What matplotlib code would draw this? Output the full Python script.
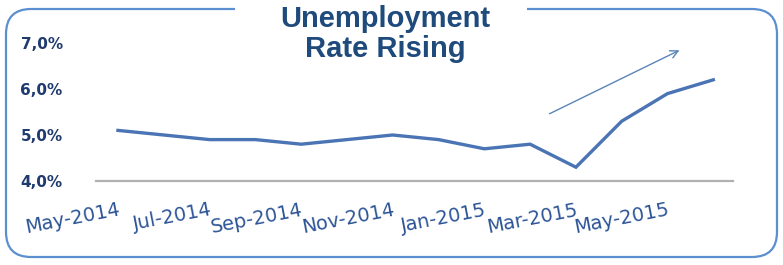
import matplotlib
matplotlib.use("Agg")
import matplotlib.pyplot as plt
from matplotlib.patches import FancyBboxPatch, Rectangle

months = ["May-2014", "Jun-2014", "Jul-2014", "Aug-2014", "Sep-2014", "Oct-2014",
          "Nov-2014", "Dec-2014", "Jan-2015", "Feb-2015", "Mar-2015", "Apr-2015",
          "May-2015", "Jun-2015"]
rate = [5.1, 5.0, 4.9, 4.9, 4.8, 4.9, 5.0, 4.9, 4.7, 4.8, 4.3, 5.3, 5.9, 6.2]
yticks = [4.0, 5.0, 6.0, 7.0]
ytick_labels = ["4,0%", "5,0%", "6,0%", "7,0%"]
title = "Unemployment\nRate Rising"

W, H = 783, 265
fig = plt.figure(figsize=(W / 100, H / 100), dpi=100)
fig.patch.set_facecolor("white")

def fx(px):
    return px / W

def fy(py):
    return 1 - py / H

# frame
frame = FancyBboxPatch((fx(6), fy(257)), fx(771), (257 - 9) / H,
                       boxstyle="round,pad=0,rounding_size=0.032",
                       transform=fig.transFigure, facecolor="none",
                       edgecolor="#5b8fd0", linewidth=1.6, zorder=0,
                       mutation_aspect=W / H)
fig.patches.append(frame)
gap = Rectangle((fx(235), fy(20)), fx(527 - 235), 18 / H, transform=fig.transFigure,
                facecolor="white", edgecolor="none", zorder=0.5)
fig.patches.append(gap)

ax = fig.add_axes([fx(96), fy(181), fx(733 - 96), (181 - 43) / H])
ax.set_zorder(2)
ax.set_facecolor("none")
x = list(range(len(months)))
ax.plot(x, rate, color="#4a74b4", linewidth=2.4, solid_joinstyle="miter", zorder=3)
ax.set_xlim(-0.48, 13.43)
ax.set_ylim(4.0, 7.0)
ax.set_yticks(yticks)
ax.set_yticklabels(ytick_labels, fontsize=11, fontweight="bold", color="#1f3a6e",
                   family="DejaVu Sans")
ax.tick_params(axis="y", length=0, pad=24)
ax.set_xticks(x[::2])
ax.set_xticklabels(months[::2], rotation=11, ha="right", va="top",
                   rotation_mode="anchor", fontsize=14, color="#2d5597",
                   family="DejaVu Sans")
ax.tick_params(axis="x", length=0, pad=14)
for s in ["left", "right", "top"]:
    ax.spines[s].set_visible(False)
ax.spines["bottom"].set_color("#b0b0b0")
ax.spines["bottom"].set_linewidth(1.6)

# arrow
ax.annotate("", xy=(fx(682), fy(49)), xycoords="figure fraction",
            xytext=(fx(547), fy(115)), textcoords="figure fraction",
            arrowprops=dict(arrowstyle="->", color="#5a84b8", lw=1.0,
                            mutation_scale=14))

fig.text(fx(385), fy(34), title, ha="center", va="center", fontsize=21,
         fontweight="bold", color="#1f4a7c", family="Liberation Sans",
         linespacing=1.12, zorder=5)

fig.savefig("out.png", dpi=100)
